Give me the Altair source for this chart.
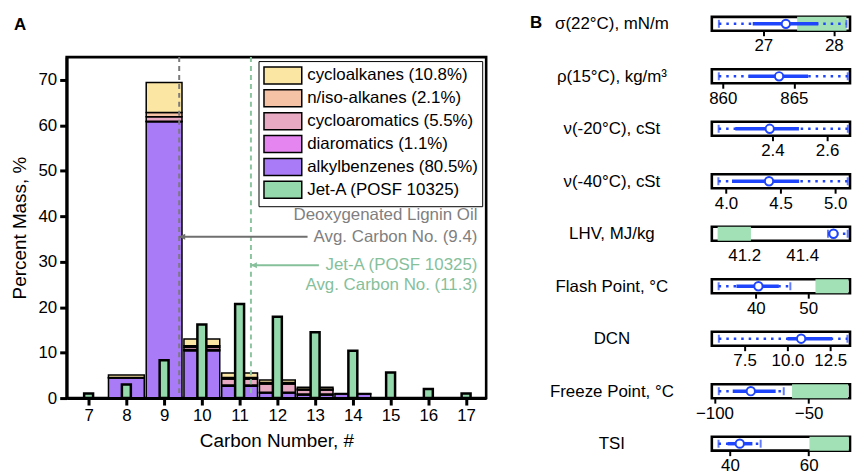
import altair as alt
import pandas as pd

FONT = "Liberation Sans"
BLUE = "#1f45fc"
GREEN_BOX = "#a2e0b6"

# ---------------- Panel A data ----------------
carbon_numbers = [7, 8, 9, 10, 11, 12, 13, 14, 15, 16, 17]
alkylbenzenes = [0.0, 4.4, 60.8, 10.4, 2.6, 1.1, 0.7, 0.9, 0.0, 0.0, 0.0]
diaromatics = [0.0, 0.0, 0.1, 0.3, 0.3, 0.2, 0.2, 0.0, 0.0, 0.0, 0.0]
cycloaromatics = [0.0, 0.0, 1.0, 0.5, 1.3, 1.8, 0.9, 0.0, 0.0, 0.0, 0.0]
n_iso_alkanes = [0.0, 0.1, 0.9, 0.3, 0.3, 0.3, 0.2, 0.0, 0.0, 0.0, 0.0]
cycloalkanes = [0.0, 0.6, 6.6, 1.5, 1.0, 0.6, 0.4, 0.1, 0.0, 0.0, 0.0]
jet_a = [1.0, 3.0, 8.3, 16.2, 20.7, 17.9, 14.5, 10.4, 5.6, 2.0, 1.0]

legend_order = ["cycloalkanes (10.8%)", "n/iso-alkanes (2.1%)", "cycloaromatics (5.5%)",
                "diaromatics (1.1%)", "alkylbenzenes (80.5%)", "Jet-A (POSF 10325)"]
legend_colors = ["#fce6a4", "#f6c2a6", "#e8a9c2", "#e585f0", "#a97bf7", "#93d9ab"]

avg_dlo = 9.4
avg_jet = 11.3
ann_labels = ["Deoxygenated Lignin Oil", "Avg. Carbon No. (9.4)",
              "Jet-A (POSF 10325)", "Avg. Carbon No. (11.3)"]
ann_colors = ["#7f7f7f", "#7f7f7f", "#86c09b", "#86c09b"]
ann_x = [17.3, 17.3, 17.3, 17.3]
ann_y = [40.3, 35.5, 29.2, 24.8]
arrow_start = [avg_dlo, avg_jet]
arrow_end = [12.8, 13.1]
arrow_y = [35.5, 29.2]
arrow_colors = ["#6f6f6f", "#86c09b"]

# ---------------- Panel B data ----------------
prop_labels = ["σ(22°C), mN/m", "ρ(15°C), kg/m³", "ν(-20°C), cSt", "ν(-40°C), cSt",
               "LHV, MJ/kg", "Flash Point, °C", "DCN", "Freeze Point, °C", "TSI"]
axis_lo = [26.27, 859.23, 2.178, 3.87, 41.088, 31.6, 5.59, -101.4, 35.4]
axis_hi = [28.23, 868.95, 2.684, 5.136, 41.565, 58.0, 13.65, -28.0, 70.5]
range_lo = [26.37, 859.72, 2.203, 3.93, 41.489, 32.9, 6.0, -97.7, 37.1]
range_hi = [28.18, 868.79, 2.676, 5.115, 41.557, 46.6, 13.5, -63.2, 47.8]
ci_lo = [26.85, 861.8, 2.264, 4.055, 41.489, 36.3, 10.0, -90.3, 39.4]
ci_hi = [27.78, 866.0, 2.497, 4.67, 41.525, 44.4, 12.6, -67.5, 45.7]
means = [27.32, 863.96, 2.39, 4.394, 41.508, 40.5, 10.8, -80.7, 42.5]
jet_lo = [27.48, None, None, None, 41.108, 51.4, None, -58.8, 60.2]
jet_hi = [28.18, None, None, None, 41.223, 57.7, None, -29.0, 70.2]
tick_values = [[27, 28], [860, 865], [2.4, 2.6], [4.0, 4.5, 5.0], [41.2, 41.4],
               [40, 50], [7.5, 10.0, 12.5], [-100, -50], [40, 60]]
tick_formats = ["d", "d", ".1f", ".1f", ".1f", "d", ".1f", "d", "d"]

# ---------------- Panel A ----------------
series = [
    ("alkylbenzenes (80.5%)", alkylbenzenes),
    ("diaromatics (1.1%)", diaromatics),
    ("cycloaromatics (5.5%)", cycloaromatics),
    ("n/iso-alkanes (2.1%)", n_iso_alkanes),
    ("cycloalkanes (10.8%)", cycloalkanes),
]
rows = []
for k, (name, vals) in enumerate(series):
    for c, v in zip(carbon_numbers, vals):
        if v > 0:
            rows.append({"carbon": c, "group": name, "value": v, "order": k})
dlo_df = pd.DataFrame(rows)
jet_df = pd.DataFrame({"carbon": carbon_numbers, "value": jet_a,
                       "group": ["Jet-A (POSF 10325)"] * len(carbon_numbers)})

x_axis_A = alt.Axis(values=carbon_numbers, format="d", title="Carbon Number, #",
                    tickSize=7, tickWidth=3, domainWidth=3, labelPadding=3,
                    titlePadding=8, titleFontSize=19, zindex=1)
y_axis_A = alt.Axis(values=[0, 10, 20, 30, 40, 50, 60, 70], title="Percent Mass, %",
                    tickSize=7, tickWidth=3, domainWidth=3, labelPadding=3,
                    titlePadding=8, titleFontSize=19, zindex=1)
xsA = alt.Scale(domain=[6.55, 17.4], nice=False, zero=False)
ysA = alt.Scale(domain=[0, 75], nice=False)

legend = alt.Legend(title=None, orient="top-right", offset=4, fillColor="white",
                    strokeColor="black", padding=4,
                    symbolType="M-2,-0.9L2,-0.9L2,0.9L-2,0.9Z", symbolSize=361,
                    symbolStrokeColor="black", symbolStrokeWidth=1.5, symbolOpacity=1,
                    symbolOffset=10, labelOffset=14, labelFontSize=17, labelFont=FONT,
                    labelColor="black", rowPadding=-5.4, labelLimit=300)
color = alt.Color("group:N", scale=alt.Scale(domain=legend_order, range=legend_colors),
                  legend=legend)

bars = alt.Chart(dlo_df).mark_bar(width=36, stroke="black", strokeWidth=1.5, opacity=1).encode(
    x=alt.X("carbon:Q", scale=xsA, axis=x_axis_A),
    y=alt.Y("value:Q", scale=ysA, axis=y_axis_A, stack="zero"),
    color=color,
    order=alt.Order("order:Q"),
)
jet_bars = alt.Chart(jet_df).mark_bar(width=9, stroke="black", strokeWidth=2.5, opacity=1).encode(
    x=alt.X("carbon:Q", scale=xsA, axis=x_axis_A),
    y=alt.Y("value:Q", scale=ysA, axis=y_axis_A, stack=None),
    color=color,
)
rule_dlo = alt.Chart(pd.DataFrame({"carbon": [avg_dlo]})).mark_rule(
    color="#7a7a7a", strokeDash=[5, 4], strokeWidth=2).encode(x=alt.X("carbon:Q", scale=xsA))
rule_jet = alt.Chart(pd.DataFrame({"carbon": [avg_jet]})).mark_rule(
    color="#8cc4a0", strokeDash=[5, 4], strokeWidth=2).encode(x=alt.X("carbon:Q", scale=xsA))

arrow_df = pd.DataFrame({"carbon": arrow_start, "carbon_end": arrow_end, "value": arrow_y,
                         "col": arrow_colors})
arrows = alt.Chart(arrow_df).mark_rule(strokeWidth=2).encode(
    x=alt.X("carbon:Q", scale=xsA), x2="carbon_end:Q", y=alt.Y("value:Q", scale=ysA),
    stroke=alt.Stroke("col:N", scale=None, legend=None))
heads = alt.Chart(arrow_df).mark_point(shape="M0,0L2,-1L2,1Z", size=36, filled=True,
                                       opacity=1, strokeWidth=0).encode(
    x=alt.X("carbon:Q", scale=xsA), y=alt.Y("value:Q", scale=ysA),
    fill=alt.Fill("col:N", scale=None, legend=None))
ann_df = pd.DataFrame({"carbon": ann_x, "value": ann_y, "label": ann_labels, "col": ann_colors})
ann = alt.Chart(ann_df).mark_text(align="right", baseline="middle", fontSize=17, font=FONT).encode(
    x=alt.X("carbon:Q", scale=xsA), y=alt.Y("value:Q", scale=ysA), text="label:N",
    fill=alt.Fill("col:N", scale=None, legend=None))

main_A = alt.layer(bars, jet_bars, rule_dlo, rule_jet, arrows, heads, ann).properties(
    width=422, height=343)

# spacer row carrying the panel letter
letter_A = alt.Chart(pd.DataFrame({"t": ["A"]})).mark_text(
    align="left", baseline="middle", fontSize=17, fontWeight="bold", font=FONT,
    x=-53, y=8.5).encode(text="t:N").properties(
    width=422, height=28, view=alt.ViewBackground(strokeWidth=0, stroke="transparent"))

left = alt.vconcat(letter_A, main_A, spacing=9.5).resolve_legend(color="independent")

# ---------------- Panel B ----------------
panels = []
for i, lab in enumerate(prop_labels):
    df = pd.DataFrame([{"lo": range_lo[i], "hi": range_hi[i], "clo": ci_lo[i], "chi": ci_hi[i],
                        "mean": means[i], "mid": 0.5,
                        "jlo": jet_lo[i] if jet_lo[i] is not None else 0.0,
                        "jhi": jet_hi[i] if jet_hi[i] is not None else 0.0}])
    xs = alt.Scale(domain=[axis_lo[i], axis_hi[i]], nice=False, zero=False)
    is_lhv = lab.startswith("LHV")
    xax = alt.Axis(values=tick_values[i], format=tick_formats[i], title=None, domain=False,
                   grid=False, ticks=not is_lhv, tickSize=5, tickWidth=2,
                   labelPadding=7 if is_lhv else 2, labelFontSize=17)
    ys = alt.Scale(domain=[0, 1])
    yax = alt.Axis(title=lab, titleAngle=0, titleAlign="center", titleBaseline="middle",
                   titleX=-101, titleY=7, labels=False, ticks=False, domain=False, grid=False,
                   titleFontSize=17, titleFontWeight="normal", titleColor="black", titleFont=FONT)
    base = alt.Chart(df)
    X = lambda f: alt.X(f, scale=xs, axis=xax)
    Y = alt.Y("mid:Q", scale=ys, axis=yax)
    layers = []
    if jet_lo[i] is not None:
        layers.append(base.mark_rect(color=GREEN_BOX, opacity=1).encode(x=X("jlo:Q"), x2="jhi:Q"))
    layers.append(base.mark_rule(color=BLUE, strokeWidth=2.5, strokeDash=[2.5, 5]).encode(
        x=X("lo:Q"), x2="hi:Q", y=Y))
    layers.append(base.mark_rule(color=BLUE, strokeWidth=3.5).encode(x=X("clo:Q"), x2="chi:Q", y=Y))
    layers.append(base.mark_tick(color=BLUE, orient="vertical", size=8, thickness=2).encode(x=X("lo:Q"), y=Y))
    layers.append(base.mark_tick(color=BLUE, orient="vertical", size=8, thickness=2).encode(x=X("hi:Q"), y=Y))
    layers.append(base.mark_point(shape="circle", size=70, stroke=BLUE, strokeWidth=2, fill="white",
                                  fillOpacity=1, opacity=1).encode(x=X("mean:Q"), y=Y))
    if i == 0:
        layers.append(alt.Chart(pd.DataFrame({"t": ["B"]})).mark_text(
            align="left", baseline="middle", fontSize=17, fontWeight="bold", font=FONT,
            x=-183, y=6).encode(text="t:N"))
    panels.append(alt.layer(*layers).properties(width=139, height=14))

right = alt.vconcat(*panels, spacing=9.8)

chart = alt.concat(left, right, columns=2, spacing=40).resolve_legend(
    color="independent").properties(
    padding={"left": 1, "top": 2.5, "right": 0, "bottom": 0}
).configure(font=FONT).configure_view(
    stroke="black", strokeWidth=2.6
).configure_axis(
    labelFont=FONT, labelFontSize=17, labelColor="black", titleFont=FONT,
    titleColor="black", titleFontWeight="normal", tickColor="black", domainColor="black",
    grid=False
)

chart.save("out.html", embed_options={"renderer": "svg", "actions": False})
